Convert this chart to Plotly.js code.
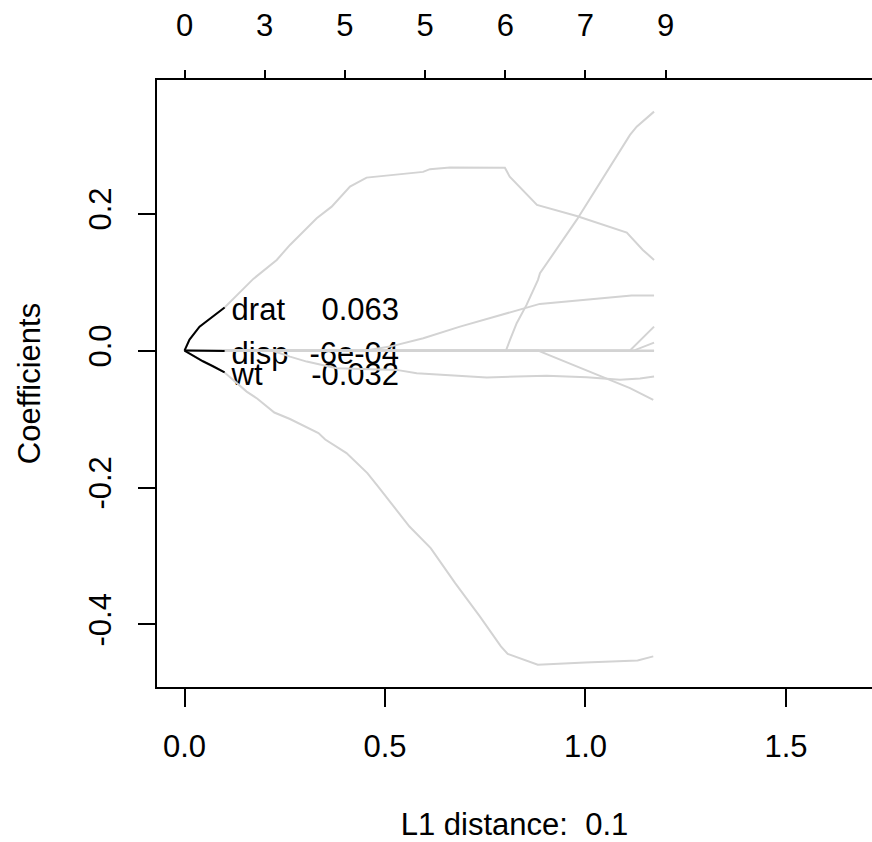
<!DOCTYPE html>
<html>
<head>
<meta charset="utf-8">
<script src="https://cdn.plot.ly/plotly-3.0.1.min.js"></script>
<style>
  html, body { margin: 0; padding: 0; background: #fff; overflow: hidden; }
  #plot { width: 872px; height: 842px; }
</style>
</head>
<body>
<div id="plot"></div>
<script>
// Lasso coefficient paths against L1 norm, with the three strongest
// coefficients at L1 = 0.1 highlighted and labelled.

const labelL1 = 0.1;

const dratL1   = [0, 0.0125, 0.0375, 0.07, 0.1, 0.1716, 0.23, 0.263, 0.296, 0.3297, 0.367, 0.4127, 0.454, 0.495, 0.595, 0.612, 0.662, 0.799, 0.811, 0.879, 0.978, 1.103, 1.115, 1.143, 1.171];
const dratCoef = [0, 0.016, 0.035, 0.05, 0.063, 0.1047, 0.1324, 0.1543, 0.1737, 0.1933, 0.2102, 0.2394, 0.2526, 0.255, 0.261, 0.265, 0.2675, 0.267, 0.254, 0.2127, 0.1966, 0.1723, 0.1645, 0.147, 0.1324];

const dispL1   = [0, 0.1, 0.5, 0.9, 1.171];
const dispCoef = [0, -0.0006, -0.0008, -0.0007, -0.0006];

const wtL1   = [0, 0.021, 0.046, 0.071, 0.1, 0.155, 0.181, 0.224, 0.263, 0.334, 0.351, 0.404, 0.439, 0.456, 0.4825, 0.561, 0.614, 0.675, 0.736, 0.789, 0.806, 0.881, 0.999, 1.051, 1.13, 1.169];
const wtCoef = [0, -0.0073, -0.0156, -0.0229, -0.032, -0.0599, -0.070, -0.0905, -0.100, -0.1206, -0.130, -0.1498, -0.1693, -0.179, -0.1985, -0.257, -0.2885, -0.3396, -0.388, -0.432, -0.443, -0.4588, -0.4555, -0.454, -0.4526, -0.4467];

const steepL1   = [0, 0.8017, 0.8117, 0.8284, 0.853, 0.8815, 0.8865, 0.978, 1.111, 1.1277, 1.171];
const steepCoef = [0, 0, 0.0156, 0.040, 0.0667, 0.1032, 0.113, 0.1908, 0.315, 0.327, 0.349];

const riseL1   = [0, 0.4526, 0.5125, 0.5955, 0.687, 0.844, 0.886, 1.115, 1.171];
const riseCoef = [0, 0, 0.0058, 0.0181, 0.035, 0.0619, 0.0682, 0.0803, 0.0803];

const lowL1   = [0, 0.218, 0.263, 0.3047, 0.3795, 0.529, 0.579, 0.662, 0.7536, 0.828, 0.903, 1.003, 1.086, 1.136, 1.171];
const lowCoef = [0, 0, -0.0088, -0.0161, -0.0257, -0.0282, -0.033, -0.0362, -0.0394, -0.038, -0.0369, -0.0388, -0.0428, -0.0409, -0.038];

const dropL1   = [0, 0.882, 0.903, 1.053, 1.111, 1.169];
const dropCoef = [0, 0, -0.0053, -0.0403, -0.0549, -0.072];

const lateAL1   = [0, 1.111, 1.171];
const lateACoef = [0, 0, 0.035];

const lateBL1   = [0, 1.12, 1.171];
const lateBCoef = [0, 0, 0.0117];

const flatL1   = [0, 1.171];
const flatCoef = [0, 0];

// labelled variables and their values at L1 = 0.1
const labelNames  = ['drat', 'disp', 'wt'];
const labelValues = ['0.063', '-6e-04', '-0.032'];
const labelCoefs  = [0.063, -0.0006, -0.032];

// bottom / left / top axis ticks
const xTickVals = [0, 0.5, 1, 1.5];
const xTickText = ['0.0', '0.5', '1.0', '1.5'];
const yTickVals = [-0.4, -0.2, 0, 0.2];
const yTickText = ['-0.4', '-0.2', '0.0', '0.2'];
const topTickVals = [0, 0.2, 0.4, 0.6, 0.8, 1.0, 1.2];
const topTickText = ['0', '3', '5', '5', '6', '7', '9'];

const FONT = 'Liberation Sans, Arial, sans-serif';
const FS = 31;
const GREY = '#d3d3d3';

// pixel geometry of the plotting box
const W = 872, H = 842;
const M = { l: 157, r: 0, t: 80, b: 155 };
const xRange = [-0.0686, 1.7145];
const yRange = [-0.4914, 0.3952];
const pxX = (W - M.l - M.r) / (xRange[1] - xRange[0]);
const pxY = (H - M.t - M.b) / (yRange[1] - yRange[0]);

// label placement: names just right of the highlighted ends, values in a right-aligned column
const nameGapPx = 7;
const textDropPx = 5;
const valueColumnL1 = 0.535;

const paths = [
  [flatL1, flatCoef], [lateBL1, lateBCoef], [lateAL1, lateACoef],
  [dropL1, dropCoef], [lowL1, lowCoef], [riseL1, riseCoef],
  [steepL1, steepCoef], [dispL1, dispCoef], [wtL1, wtCoef], [dratL1, dratCoef]
];
const highlighted = [[dratL1, dratCoef], [dispL1, dispCoef], [wtL1, wtCoef]];

const traces = [];
const labelY = labelCoefs.map(v => v - textDropPx / pxY);

// labels first, so that the paths run over them
traces.push({
  type: 'scatter', mode: 'text', x: labelNames.map(() => labelL1 + nameGapPx / pxX), y: labelY,
  text: labelNames, textposition: 'middle right',
  textfont: { family: FONT, size: FS, color: '#000' },
  hoverinfo: 'skip', showlegend: false
});
traces.push({
  type: 'scatter', mode: 'text', x: labelValues.map(() => valueColumnL1), y: labelY,
  text: labelValues, textposition: 'middle left',
  textfont: { family: FONT, size: FS, color: '#000' },
  hoverinfo: 'skip', showlegend: false
});

paths.forEach(([xs, ys]) => {
  traces.push({
    type: 'scatter', mode: 'lines', x: xs, y: ys,
    line: { color: GREY, width: 2 }, hoverinfo: 'skip', showlegend: false
  });
});

// highlighted stretch from 0 up to the labelled L1 distance
highlighted.forEach(([xs, ys]) => {
  const n = xs.findIndex(v => v > labelL1 + 1e-9);
  const end = n < 0 ? xs.length : n;
  traces.push({
    type: 'scatter', mode: 'lines', x: xs.slice(0, end), y: ys.slice(0, end),
    line: { color: '#000', width: 2 }, hoverinfo: 'skip', showlegend: false
  });
});

// carrier for the top axis
traces.push({
  type: 'scatter', mode: 'markers', x: topTickVals, y: topTickVals.map(() => 0),
  xaxis: 'x2', marker: { opacity: 0, size: 1 }, hoverinfo: 'skip', showlegend: false
});

const axisBase = {
  showgrid: false, zeroline: false, showline: true, linecolor: '#000', linewidth: 2,
  ticks: 'outside', tickcolor: '#000', tickwidth: 2,
  tickfont: { family: FONT, size: FS, color: '#000' }, fixedrange: true
};

const layout = {
  width: W, height: H, margin: M,
  paper_bgcolor: '#fff', plot_bgcolor: '#fff',
  font: { family: FONT, size: FS, color: '#000' },
  showlegend: false,
  xaxis: Object.assign({}, axisBase, {
    range: xRange, tickmode: 'array', tickvals: xTickVals, ticktext: xTickText,
    ticklen: 18, ticklabelstandoff: 13,
    title: { text: 'L1 distance:\u00a0 0.1', font: { family: FONT, size: FS, color: '#000' }, standoff: 57 }
  }),
  xaxis2: Object.assign({}, axisBase, {
    range: xRange, overlaying: 'x', side: 'top', anchor: 'y',
    tickmode: 'array', tickvals: topTickVals, ticktext: topTickText,
    ticklen: 8, ticklabelstandoff: 22
  }),
  yaxis: Object.assign({}, axisBase, {
    range: yRange, tickmode: 'array', tickvals: yTickVals, ticktext: yTickText,
    ticklen: 17, tickangle: -90, ticklabelstandoff: 15,
    title: { text: 'Coefficients', font: { family: FONT, size: FS, color: '#000' }, standoff: 33 }
  })
};

Plotly.newPlot('plot', traces, layout, { staticPlot: true, displayModeBar: false });
</script>
</body>
</html>
